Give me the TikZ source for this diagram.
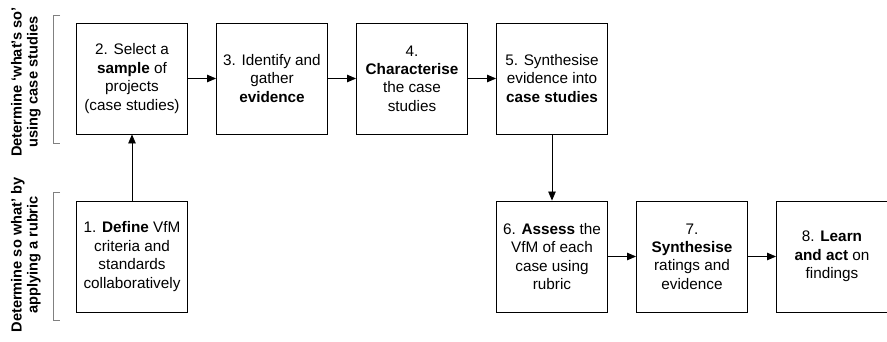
\documentclass[tikz,border=0pt]{standalone}
\usepackage{fontspec}
\setmainfont{Liberation Sans}
\usetikzlibrary{arrows.meta}

\begin{document}
\begin{tikzpicture}[x=1pt,y=-1pt,
		stepbox/.style={draw,line width=0.9pt,minimum width=111pt,minimum height=111pt,
			inner sep=2pt,align=center,font=\fontsize{15.3}{18.4}\selectfont},
		flow/.style={-{Triangle[length=9pt,width=7.5pt]},line width=0.8pt},
		bracket/.style={draw=gray,line width=0.6pt},
		phase/.style={rotate=90,align=center,font=\bfseries\fontsize{14.6}{16}\selectfont}]
		\useasboundingbox (0,0) rectangle (887,342);
		% Steps
		\node[stepbox] (s1) at (132,256.5) {1. \textbf{Define} VfM\\criteria and\\standards\\collaboratively};
		\node[stepbox] (s2) at (132,78.5) {2. Select a\\\textbf{sample} of\\projects\\(case studies)};
		\node[stepbox] (s3) at (272,78.5) {3. Identify and\\gather\\\textbf{evidence}};
		\node[stepbox] (s4) at (412,78.5) {4.\\\textbf{Characterise}\\the case\\studies};
		\node[stepbox] (s5) at (552,78.5) {5. Synthesise\\evidence into\\\textbf{case studies}};
		\node[stepbox] (s6) at (552,256.5) {6. \textbf{Assess} the\\VfM of each\\case using\\rubric};
		\node[stepbox] (s7) at (692,256.5) {7.\\\textbf{Synthesise}\\ratings and\\evidence};
		\node[stepbox] (s8) at (832,256.5) {8. \textbf{Learn}\\\textbf{and act} on\\findings};
		% Arrows
		\draw[flow] (s1) -- (s2);
		\draw[flow] (s2) -- (s3);
		\draw[flow] (s3) -- (s4);
		\draw[flow] (s4) -- (s5);
		\draw[flow] (s5) -- (s6);
		\draw[flow] (s6) -- (s7);
		\draw[flow] (s7) -- (s8);
		% Phase brackets
		\draw[bracket] (60,15) -- (53,15) -- (53,143) -- (60,143);
		\draw[bracket] (60,192) -- (53,192) -- (53,320) -- (60,320);
		% Phase labels
		\node[phase] (p1) at (26,82) {Determine `what's so'\\using case studies};
		\node[phase] (p2) at (26,255) {Determine so what' by\\applying a rubric};
	\end{tikzpicture}
\end{document}
